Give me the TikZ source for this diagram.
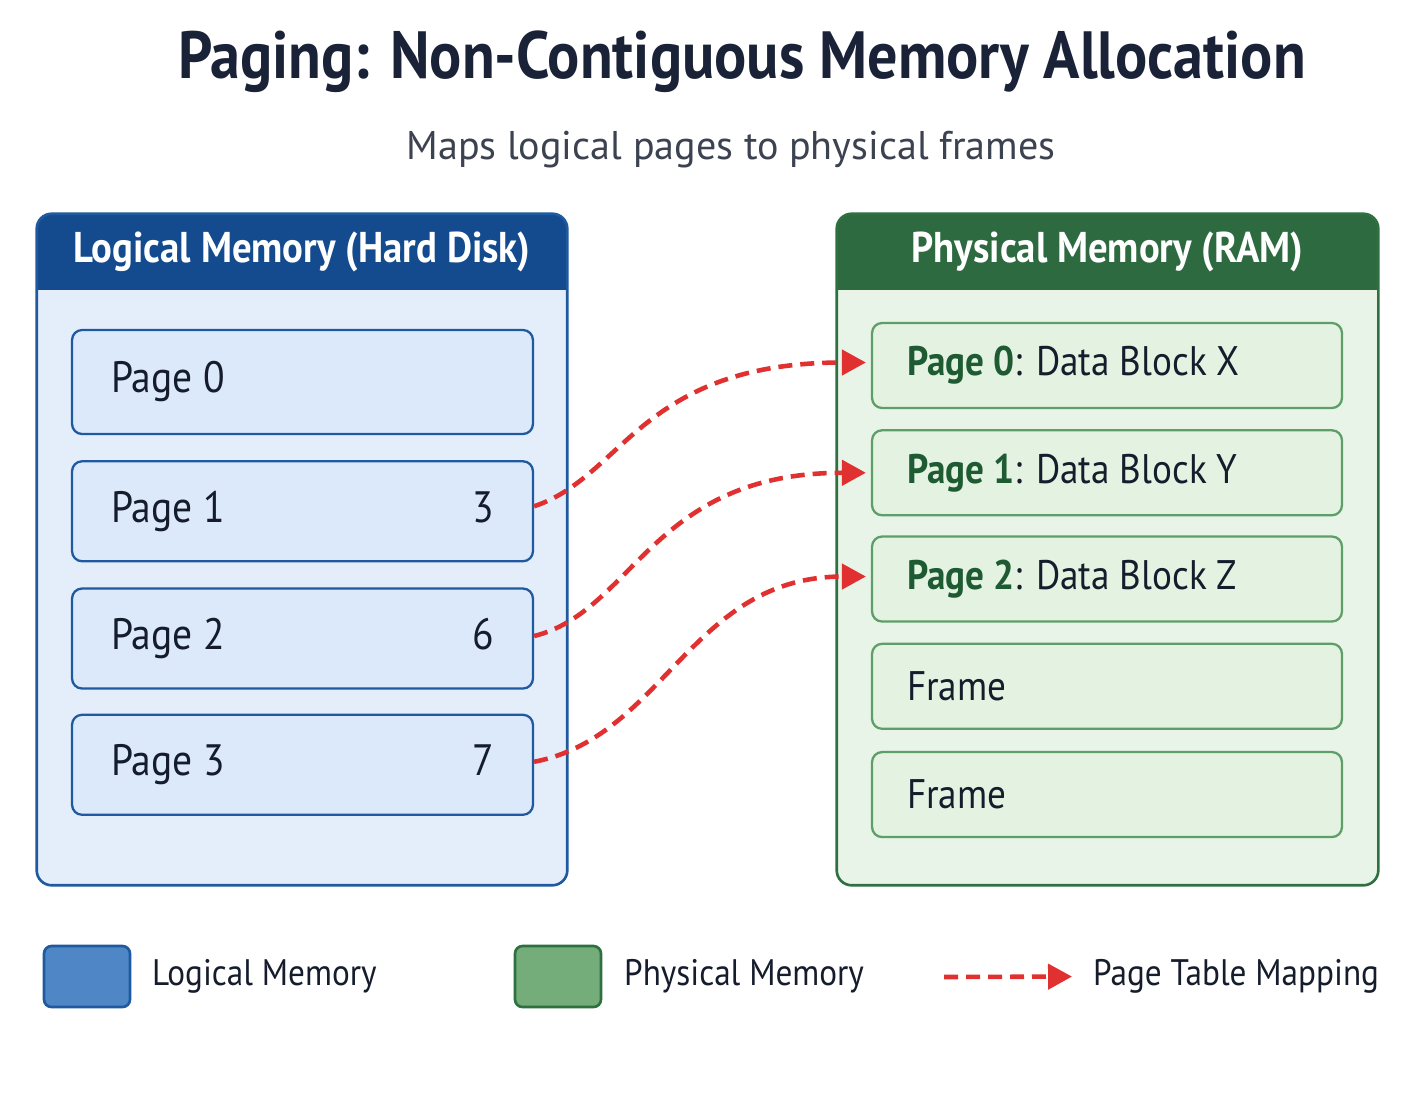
\documentclass[tikz,border=0pt]{standalone}
\usepackage{fontspec}
\setmainfont[FakeStretch=0.9]{PT Sans}
\newfontfamily\subfont{PT Sans}
\usepackage{xcolor}
\usetikzlibrary{arrows.meta, positioning, shapes}

\definecolor{titlecol}{HTML}{1A2238}
\definecolor{subcol}{HTML}{3C4250}
\definecolor{textcol}{HTML}{151C2C}
\definecolor{logborder}{HTML}{1F5AA0}
\definecolor{loghead}{HTML}{134B8E}
\definecolor{logfill}{HTML}{E4EEFB}
\definecolor{pagefill}{HTML}{DCE9FB}
\definecolor{physborder}{HTML}{2E7040}
\definecolor{physhead}{HTML}{2D6A3F}
\definecolor{physfill}{HTML}{E8F4E8}
\definecolor{framefill}{HTML}{E4F2E2}
\definecolor{frameborder}{HTML}{5E9E68}
\definecolor{pagegreen}{HTML}{1E5A32}
\definecolor{mapred}{HTML}{E03030}
\definecolor{legblue}{HTML}{4F86C6}
\definecolor{leggreen}{HTML}{74AD7A}

\tikzset{
    panel/.style={rectangle, rounded corners=0.3cm, inner sep=0pt},
    headtext/.style={text=white, font=\fontsize{24.5}{28}\selectfont\bfseries},
    pagebox/.style={draw=logborder, line width=1.3pt, fill=pagefill, rectangle, rounded corners=0.2cm,
        minimum width=9.22cm, minimum height=2cm, text width=7.66cm, align=flush left, inner xsep=0.78cm,
        text=textcol, font=\fontsize{25}{28}\selectfont},
    framebox/.style={draw=frameborder, line width=1.3pt, fill=framefill, rectangle, rounded corners=0.2cm,
        minimum width=9.4cm, minimum height=1.7cm, text width=8cm, align=flush left, inner xsep=0.7cm,
        text=textcol, font=\fontsize{23.5}{27}\selectfont},
    mapping/.style={draw=mapred, line width=2.6pt, dash pattern=on 0.28cm off 0.16cm,
        -{Triangle[length=0.48cm, width=0.5cm]}, shorten >=0.1cm},
    legbox/.style={rectangle, rounded corners=0.15cm, line width=1.5pt, minimum width=1.72cm, minimum height=1.22cm},
    legtext/.style={anchor=west, text=textcol, font=\fontsize{21}{24}\selectfont},
}

\begin{document}
\begin{tikzpicture}[x=0.02cm, y=-0.02cm]
        \useasboundingbox[fill=white] (0,0) rectangle (1422,1106);

        % Title
        \node (title) [text=titlecol, font=\fontsize{38}{42}\selectfont\bfseries] at (742,62) {Paging: Non-Contiguous Memory Allocation};
        \node (subtitle) [text=subcol, font=\subfont\fontsize{22.8}{26}\selectfont] at (731,150) {Maps logical pages to physical frames};

        % Logical memory panel
        \node (logical) [panel, fill=logfill, minimum width=10.6cm, minimum height=13.42cm] at (302,549.5) {};
        \begin{scope}
            \clip[rounded corners=0.3cm] (logical.north west) rectangle (logical.south east);
            \fill[loghead] (logical.north west) rectangle ([yshift=-1.52cm]logical.north east);
        \end{scope}
        \draw[logborder, line width=1.5pt, rounded corners=0.3cm] (logical.north west) rectangle (logical.south east);
        \node (loghdr) [headtext] at ([yshift=-0.76cm]logical.north) {Logical Memory (Hard Disk)};

        \node (page0) [pagebox, minimum height=2.08cm] at (302.5,382) {Page 0};
        \node (page1) [pagebox, below=0.5cm of page0] {Page 1\hfill 3};
        \node (page2) [pagebox, below=0.5cm of page1] {Page 2\hfill 6};
        \node (page3) [pagebox, below=0.48cm of page2] {Page 3\hfill 7};

        % Physical memory panel
        \node (physical) [panel, fill=physfill, minimum width=10.82cm, minimum height=13.42cm] at (1107.5,549.5) {};
        \begin{scope}
            \clip[rounded corners=0.3cm] (physical.north west) rectangle (physical.south east);
            \fill[physhead] (physical.north west) rectangle ([yshift=-1.52cm]physical.north east);
        \end{scope}
        \draw[physborder, line width=1.5pt, rounded corners=0.3cm] (physical.north west) rectangle (physical.south east);
        \node (physhdr) [headtext] at ([yshift=-0.76cm]physical.north) {Physical Memory (RAM)};

        \node (frame0) [framebox] at (1107,365.5) {\textcolor{pagegreen}{\textbf{Page 0}}: Data Block X};
        \node (frame1) [framebox, below=0.4cm of frame0] {\textcolor{pagegreen}{\textbf{Page 1}}: Data Block Y};
        \node (frame2) [framebox, below=0.38cm of frame1] {\textcolor{pagegreen}{\textbf{Page 2}}: Data Block Z};
        \node (frame3) [framebox, below=0.4cm of frame2] {Frame};
        \node (frame4) [framebox, below=0.42cm of frame3] {Frame};

        % Page table mappings
        \draw[mapping] ([yshift=0.1cm]page1.east) .. controls +(90,-30) and +(-230,0) .. ([yshift=0.06cm]frame0.west);
        \draw[mapping] ([yshift=0.05cm]page2.east) .. controls +(100,-25) and +(-220,0) .. (frame1.west);
        \draw[mapping] ([yshift=0.06cm]page3.east) .. controls +(130,-25) and +(-180,0) .. ([yshift=0.05cm]frame2.west);

        % Legend
        \node (leglog) [legbox, draw=logborder, fill=legblue] at (87,976.5) {};
        \node (leglogtext) [legtext] at (146,976.5) {Logical Memory};
        \node (legphys) [legbox, draw=physborder, fill=leggreen] at (558,976.5) {};
        \node (legphystext) [legtext] at (618,976.5) {Physical Memory};
        \coordinate (legstart) at (944,977);
        \node (legmaptext) [legtext] at (1087,976.5) {Page Table Mapping};
        \draw[mapping, shorten >=0.3cm] (legstart) -- (legmaptext.west);
    \end{tikzpicture}
\end{document}
